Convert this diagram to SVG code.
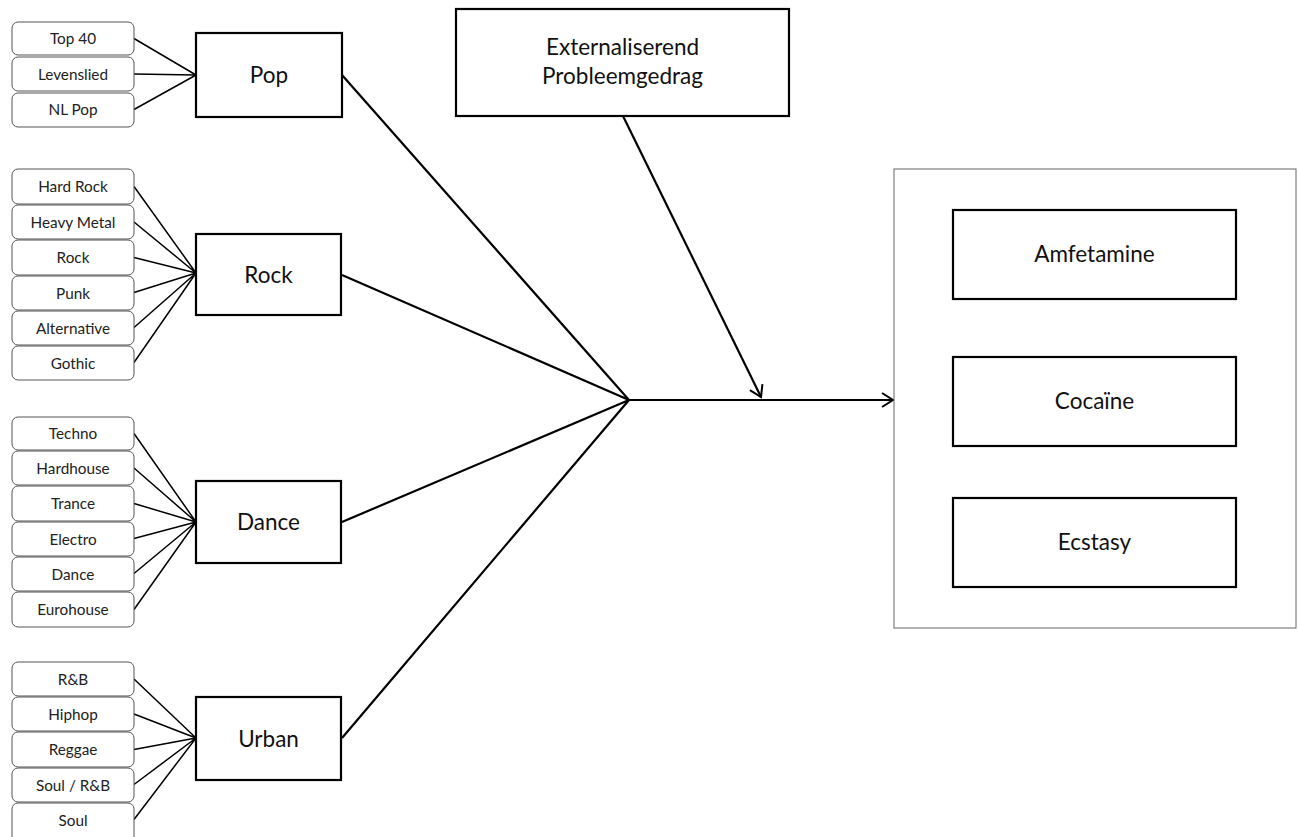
<svg xmlns="http://www.w3.org/2000/svg" width="1298" height="837" viewBox="0 0 1298 837">
<style>
.sm rect{fill:#fff;stroke:#555;stroke-width:1}
.sm text{font-family:Lato,"Liberation Sans",sans-serif;font-size:15.3px;fill:#222;text-anchor:middle}
.big rect{fill:#fff;stroke:#000;stroke-width:2.2}
.big text{font-family:Lato,"Liberation Sans",sans-serif;font-size:22.5px;fill:#111;text-anchor:middle}
.thin{stroke:#000;stroke-width:1.5;fill:none}
.thick{stroke:#000;stroke-width:2.2;fill:none}
</style>
<defs>
<marker id="arr" markerWidth="16" markerHeight="16" refX="13" refY="8" orient="auto" markerUnits="userSpaceOnUse">
<path d="M2,1 L13,8 L2,15" fill="none" stroke="#000" stroke-width="2"/>
</marker>
</defs>
<rect width="1298" height="837" fill="#fff"/>
<g id="connectors">
<path class="thin" d="M134,38.5 L196,75 M134,74 L196,75 M134,109.5 L196,75"/>
<path class="thin" d="M134,186.5 L196,273 M134,222 L196,273 M134,257.5 L196,273 M134,292.5 L196,273 M134,327.5 L196,273 M134,362.5 L196,273"/>
<path class="thin" d="M134,433.5 L196,522 M134,468 L196,522 M134,503.5 L196,522 M134,538.5 L196,522 M134,573.5 L196,522 M134,609.5 L196,522"/>
<path class="thin" d="M134,679 L196,738 M134,714 L196,738 M134,749.5 L196,738 M134,784.5 L196,738 M134,819.5 L196,738"/>
<path class="thick" d="M342,75 L629,400 M342,275 L629,400 M342,522 L629,400 M342,738 L629,400"/>
<path class="thick" d="M629,400 L893,400" marker-end="url(#arr)"/>
<path class="thick" d="M623,116 L761,397" marker-end="url(#arr)"/>
</g>
<g id="pop-items" class="sm">
<rect x="12" y="22" width="122" height="33" rx="6"/><text x="73" y="44">Top 40</text>
<rect x="12" y="57" width="122" height="34" rx="6"/><text x="73" y="79.5">Levenslied</text>
<rect x="12" y="93" width="122" height="34" rx="6"/><text x="73" y="115">NL Pop</text>
</g>
<g id="rock-items" class="sm">
<rect x="12" y="169" width="122" height="35" rx="6"/><text x="73" y="192">Hard Rock</text>
<rect x="12" y="205" width="122" height="34" rx="6"/><text x="73" y="227.5">Heavy Metal</text>
<rect x="12" y="240" width="122" height="35" rx="6"/><text x="73" y="263">Rock</text>
<rect x="12" y="276" width="122" height="34" rx="6"/><text x="73" y="298.5">Punk</text>
<rect x="12" y="311" width="122" height="34" rx="6"/><text x="73" y="333.5">Alternative</text>
<rect x="12" y="346" width="122" height="34" rx="6"/><text x="73" y="368.5">Gothic</text>
</g>
<g id="dance-items" class="sm">
<rect x="12" y="417" width="122" height="33" rx="6"/><text x="73" y="439">Techno</text>
<rect x="12" y="451" width="122" height="34" rx="6"/><text x="73" y="473.5">Hardhouse</text>
<rect x="12" y="486" width="122" height="35" rx="6"/><text x="73" y="509">Trance</text>
<rect x="12" y="522" width="122" height="34" rx="6"/><text x="73" y="544.5">Electro</text>
<rect x="12" y="557" width="122" height="34" rx="6"/><text x="73" y="579.5">Dance</text>
<rect x="12" y="592" width="122" height="35" rx="6"/><text x="73" y="615">Eurohouse</text>
</g>
<g id="urban-items" class="sm">
<rect x="12" y="662" width="122" height="34" rx="6"/><text x="73" y="684.5">R&amp;B</text>
<rect x="12" y="697" width="122" height="34" rx="6"/><text x="73" y="719.5">Hiphop</text>
<rect x="12" y="732" width="122" height="35" rx="6"/><text x="73" y="755">Reggae</text>
<rect x="12" y="768" width="122" height="34" rx="6"/><text x="73" y="790.5">Soul / R&amp;B</text>
<rect x="12" y="803" width="122" height="40" rx="6"/><text x="73" y="825.5">Soul</text>
</g>
<g id="pop" class="big"><rect x="196" y="33" width="146" height="84"/><text x="269" y="83">Pop</text></g>
<g id="rock" class="big"><rect x="196" y="234" width="145" height="81"/><text x="268.5" y="282.5">Rock</text></g>
<g id="dance" class="big"><rect x="196" y="481" width="145" height="82"/><text x="268.5" y="530">Dance</text></g>
<g id="urban" class="big"><rect x="196" y="697" width="145" height="83"/><text x="268.5" y="746.5">Urban</text></g>
<g id="externaliserend" class="big"><rect x="456" y="9" width="333" height="107"/><text x="622.5" y="55">Externaliserend</text><text x="622.5" y="84">Probleemgedrag</text></g>
<g id="drugs"><rect x="894" y="169" width="402" height="459" fill="#fff" stroke="#666" stroke-width="1"/></g>
<g id="amfetamine" class="big"><rect x="953" y="210" width="283" height="89"/><text x="1094.5" y="262">Amfetamine</text></g>
<g id="cocaine" class="big"><rect x="953" y="357" width="283" height="89"/><text x="1094.5" y="409">Cocaïne</text></g>
<g id="ecstasy" class="big"><rect x="953" y="498" width="283" height="89"/><text x="1094.5" y="550">Ecstasy</text></g>
</svg>
